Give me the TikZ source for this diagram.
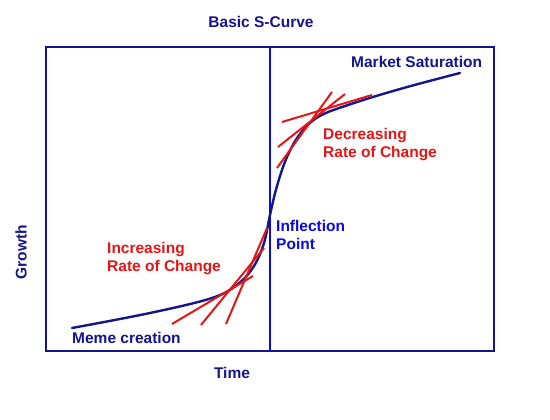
\documentclass[tikz,border=0pt]{standalone}
\usepackage{fontspec}
\setmainfont{Liberation Sans}
\definecolor{navy}{RGB}{20,20,140}
\definecolor{brightblue}{RGB}{10,10,225}
\definecolor{tanred}{RGB}{230,20,20}
\begin{document}
\begin{tikzpicture}[x=1pt, y=-1pt,
    lbl/.style={font=\fontsize{15.5}{18}\selectfont\bfseries, inner sep=0pt},
    tangent/.style={tanred, line width=2pt}]
    \useasboundingbox (0,0) rectangle (550,420);
    % Marco del gráfico
    \draw[navy, line width=2pt] (46,47) rectangle (494,351);
    \draw[brightblue, line width=1.6pt] (270,47) -- (270,351);
    
    % Títulos de los ejes
    \node[lbl, navy] (title) at (261,22) {Basic S-Curve};
    \node[lbl, navy] (time) at (232,373) {Time};
    \node[lbl, navy, rotate=90] (growth) at (21,252) {Growth};
    
    % Curva S
    \draw[navy, line width=2.4pt, line cap=round] plot[smooth, tension=0.6] coordinates {
        (72,328) (150,313) (212,298) (238,284) (254,266) (264,243)
        (270,215) (277,186) (287,157) (300,134) (318,117) (348,105)
        (400,89) (460,73)};
    
    % Tangentes en la zona creciente
    \draw[tangent] (172,324) -- (253,276);
    \draw[tangent] (201,325) -- (264,248);
    \draw[tangent] (226,324) -- (267,228);
    
    % Tangentes en la zona decreciente
    \draw[tangent] (282,122) -- (372,95);
    \draw[tangent] (278,147) -- (345,94);
    \draw[tangent] (277,168) -- (332,92);
    
    % Etiquetas
    \node[lbl, navy, anchor=west] (meme) at (72,338) {Meme creation};
    \node[lbl, navy, anchor=west] (market) at (351,62) {Market Saturation};
    \node[lbl, brightblue, anchor=west, align=left] (inflection) at (276,235) {Inflection\\Point};
    \node[lbl, tanred, anchor=west, align=left] (increasing) at (107,259) {Increasing\\Rate of Change};
    \node[lbl, tanred, anchor=west, align=left] (decreasing) at (323,145) {Decreasing\\Rate of Change};
\end{tikzpicture}
\end{document}
